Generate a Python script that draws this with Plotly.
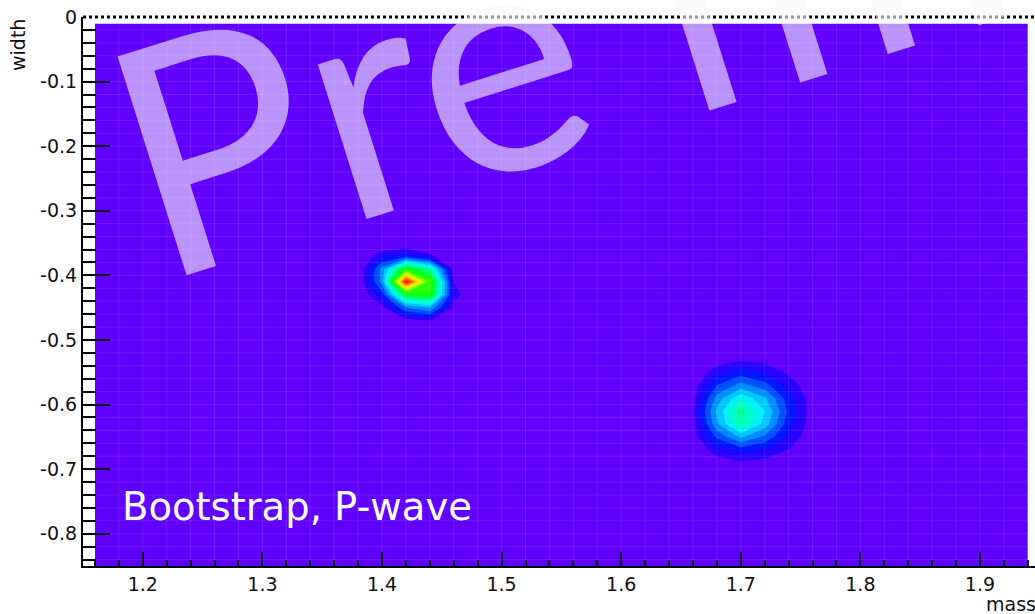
import colorsys
import math

import numpy as np
import plotly.graph_objects as go

# Histogram binning (bin centres used by the contour)
MASS_BINS = np.round(np.arange(1.16, 1.9401, 0.02), 2)
WIDTH_BINS = np.round(np.arange(-0.85, -0.0099, 0.02), 2)

# Bootstrap counts around the first solution (rows follow SOL1_WIDTH, columns SOL1_MASS)
SOL1_MASS = [1.38, 1.40, 1.42, 1.44, 1.46, 1.48]
SOL1_WIDTH = [-0.37, -0.39, -0.41, -0.43, -0.45, -0.47]
SOL1_COUNTS = [
    [0, 8, 12, 6, 0, 0],
    [0, 22, 55, 40, 2, 0],
    [0, 22, 100, 60, 5, 0],
    [0, 12, 50, 55, 7, 0],
    [0, 3, 20, 25, 3, 0],
    [0, 0, 3, 5, 0, 0],
]

# Bootstrap counts around the second solution
SOL2_MASS = [1.64, 1.66, 1.68, 1.70, 1.72, 1.74, 1.76, 1.78]
SOL2_WIDTH = [-0.53, -0.55, -0.57, -0.59, -0.61, -0.63, -0.65, -0.67, -0.69]
SOL2_COUNTS = [
    [0, 0, 2, 4, 3, 1, 0, 0],
    [0, 0, 8, 12, 9, 4, 0, 0],
    [0, 2, 15, 22, 17, 8, 1, 0],
    [0, 3, 22, 34, 26, 12, 2, 0],
    [0, 4, 26, 42, 30, 14, 2, 0],
    [0, 3, 24, 40, 28, 12, 2, 0],
    [0, 2, 16, 26, 19, 9, 1, 0],
    [0, 0, 8, 12, 10, 5, 0, 0],
    [0, 0, 2, 4, 3, 1, 0, 0],
]

X_TICKS = [1.2, 1.3, 1.4, 1.5, 1.6, 1.7, 1.8, 1.9]
X_TICKTEXT = ["1.2", "1.3", "1.4", "1.5", "1.6", "1.7", "1.8", "1.9"]
Y_TICKS = [0, -0.1, -0.2, -0.3, -0.4, -0.5, -0.6, -0.7, -0.8]
Y_TICKTEXT = ["0", "-0.1", "-0.2", "-0.3", "-0.4", "-0.5", "-0.6", "-0.7", "-0.8"]

# Fill the histogram
Z = np.zeros((len(WIDTH_BINS), len(MASS_BINS)))
for widths, masses, counts in [(SOL1_WIDTH, SOL1_MASS, SOL1_COUNTS),
                               (SOL2_WIDTH, SOL2_MASS, SOL2_COUNTS)]:
    for r, w in enumerate(widths):
        i = int(np.argmin(np.abs(WIDTH_BINS - w)))
        for c, m in enumerate(masses):
            j = int(np.argmin(np.abs(MASS_BINS - m)))
            Z[i, j] = counts[r][c]


# Rainbow palette: violet -> blue -> cyan -> green -> yellow -> red
def hue_color(h):
    r, g, b = colorsys.hsv_to_rgb(h / 360.0, 1.0, 1.0)
    return f"rgb({int(r * 255)},{int(g * 255)},{int(b * 255)})"


N_STOPS = 21
palette = [[k / (N_STOPS - 1), hue_color(262.6 * (1 - k / (N_STOPS - 1)))]
           for k in range(N_STOPS)]

# Page geometry in pixels
W, H = 1035, 614
ML, MR, MT, MB = 83, 0, 17, 48
PW, PH = W - ML - MR, H - MT - MB
X_RANGE = [1.15, 1.946]
Y_RANGE = [-0.85, 0.0]


def px_to_paper(px, py):
    return (px - ML) / PW, (H - MB - py) / PH


fig = go.Figure()
fig.add_trace(go.Contour(
    x=MASS_BINS, y=WIDTH_BINS, z=Z,
    colorscale=palette, zmin=0, zmax=100,
    contours=dict(start=5, end=95, size=5, coloring="fill"),
    line=dict(width=0, smoothing=0),
    showscale=False, hoverinfo="skip",
))

shapes = []
# faint cell boundaries
for xv in np.round(np.arange(1.18, 1.93, 0.02), 2):
    shapes.append(dict(type="line", xref="x", yref="y", x0=xv, x1=xv,
                       y0=WIDTH_BINS[0], y1=WIDTH_BINS[-1],
                       line=dict(color="rgba(255,255,255,0.10)", width=1), layer="above"))
for yv in np.round(np.arange(-0.84, -0.015, 0.02), 2):
    shapes.append(dict(type="line", xref="x", yref="y", x0=MASS_BINS[0], x1=MASS_BINS[-1],
                       y0=yv, y1=yv,
                       line=dict(color="rgba(255,255,255,0.10)", width=1), layer="above"))
# top frame edge
shapes.append(dict(type="line", xref="paper", yref="paper", x0=0, x1=1, y0=1, y1=1,
                   line=dict(color="black", width=3, dash="dot"), layer="above"))

axis_font = dict(family="DejaVu Sans, sans-serif", size=19, color="#111")

annotations = []

# "Preliminary" stamp, laid out letter by letter along a tilted baseline
STAMP_LETTERS = list("Preliminary")
STAMP_OFFSETS = [-128, 30, 165, 368, 463, 650, 830, 930, 1050, 1160, 1260]
STAMP_SIZE = 320
STAMP_ANGLE = 17.5
ORIGIN = (372, 217)
ca, sa = math.cos(math.radians(STAMP_ANGLE)), math.sin(math.radians(STAMP_ANGLE))
lift = 0.387 * STAMP_SIZE
for ch, s in zip(STAMP_LETTERS, STAMP_OFFSETS):
    bx_, by_ = ORIGIN[0] + s * ca, ORIGIN[1] - s * sa
    cx, cy = bx_ - lift * sa, by_ - lift * ca
    px, py = px_to_paper(cx, cy)
    annotations.append(dict(
        text=ch, x=px, y=py, xref="paper", yref="paper",
        xanchor="center", yanchor="middle", showarrow=False, textangle=-STAMP_ANGLE,
        font=dict(family="Lato, sans-serif", size=STAMP_SIZE, color="rgba(247,247,247,0.6)"),
    ))

bx, by = px_to_paper(120, 506)
annotations.append(dict(
    text="Bootstrap, P-wave", x=bx, y=by, xref="paper", yref="paper",
    xanchor="left", yanchor="middle", showarrow=False,
    font=dict(family="DejaVu Sans, sans-serif", size=38.5, color="white"),
))
tx, ty = px_to_paper(18, MT)
annotations.append(dict(
    text="width", x=tx, y=ty, xref="paper", yref="paper",
    xanchor="center", yanchor="top", showarrow=False, textangle=-90,
    font=axis_font,
))
mx, my = px_to_paper(984, 604)
annotations.append(dict(
    text="mass", x=mx, y=my, xref="paper", yref="paper",
    xanchor="left", yanchor="middle", showarrow=False,
    font=axis_font,
))

fig.update_layout(
    width=W, height=H,
    margin=dict(l=ML, r=MR, t=MT, b=MB, pad=0),
    paper_bgcolor="white", plot_bgcolor="white",
    shapes=shapes, annotations=annotations,
    xaxis=dict(
        range=X_RANGE, tickvals=X_TICKS, ticktext=X_TICKTEXT,
        ticks="inside", ticklen=14, tickwidth=2, tickcolor="black",
        minor=dict(ticks="inside", ticklen=6, tickwidth=2, tickcolor="black",
                   dtick=0.02, tick0=1.2, showgrid=False),
        showline=True, linecolor="black", linewidth=2,
        showgrid=False, zeroline=False, tickfont=axis_font,
    ),
    yaxis=dict(
        range=Y_RANGE, tickvals=Y_TICKS, ticktext=Y_TICKTEXT,
        ticks="inside", ticklen=27, tickwidth=2, tickcolor="black",
        minor=dict(ticks="inside", ticklen=13, tickwidth=2, tickcolor="black",
                   dtick=0.02, tick0=0, showgrid=False),
        showline=True, linecolor="black", linewidth=2,
        showgrid=False, zeroline=False, tickfont=axis_font,
    ),
)

fig.write_html("out.html")
